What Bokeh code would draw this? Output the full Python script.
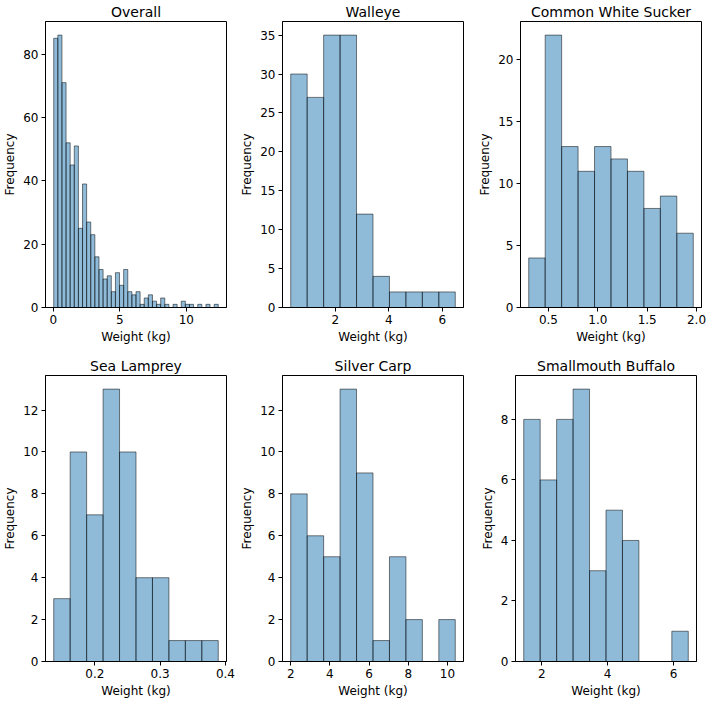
import numpy as np
from bokeh.plotting import figure
from bokeh.layouts import column, row
from bokeh.models import Range1d, FixedTicker
from bokeh.embed import file_html
from bokeh.resources import INLINE

# ---- data ----
overall_counts = [85, 86, 71, 52, 45, 51, 25, 39, 27, 23, 16, 12, 9, 10, 5, 11, 7, 12, 5, 4,
                  5, 1, 3, 4, 2, 1, 3, 1, 0, 1, 0, 2, 1, 1, 0, 1, 0, 1, 0, 1]
overall_range = (0.03, 12.40)
walleye_counts = [30, 27, 35, 35, 12, 4, 2, 2, 2, 2]
walleye_range = (0.34, 6.48)
sucker_counts = [4, 22, 13, 11, 13, 12, 11, 8, 9, 6]
sucker_range = (0.30, 1.967)
lamprey_counts = [3, 10, 7, 13, 10, 4, 4, 1, 1, 1]
lamprey_range = (0.137, 0.389)
carp_counts = [8, 6, 5, 13, 9, 1, 5, 2, 0, 2]
carp_range = (2.0, 10.4)
buffalo_counts = [8, 6, 8, 9, 3, 5, 4, 0, 0, 1]
buffalo_range = (1.45, 6.45)

titles = ["Overall", "Walleye", "Common White Sucker", "Sea Lamprey", "Silver Carp", "Smallmouth Buffalo"]
x_ticks = [[0, 5, 10], [2, 4, 6], [0.5, 1.0, 1.5, 2.0], [0.2, 0.3, 0.4], [2, 4, 6, 8, 10], [2, 4, 6]]
y_ticks = [[0, 20, 40, 60, 80], [0, 5, 10, 15, 20, 25, 30, 35], [0, 5, 10, 15, 20],
           [0, 2, 4, 6, 8, 10, 12], [0, 2, 4, 6, 8, 10, 12], [0, 2, 4, 6, 8]]
x_label_over = [None, None, {0.5: "0.5", 1.0: "1.0", 1.5: "1.5", 2.0: "2.0"},
                {0.2: "0.2", 0.3: "0.3", 0.4: "0.4"}, None, None]

series = [(overall_counts, overall_range), (walleye_counts, walleye_range),
          (sucker_counts, sucker_range), (lamprey_counts, lamprey_range),
          (carp_counts, carp_range), (buffalo_counts, buffalo_range)]

FONT = "DejaVu Sans"
FW, FH = 181, 286
lefts = [36, 40, 40]
rights = [11, 12, 11]
tops = [14, 24]
bottoms = [44, 42]

figs = []
for i, ((counts, (lo, hi)), title) in enumerate(zip(series, titles)):
    r, c = divmod(i, 3)
    n = len(counts)
    edges = np.linspace(lo, hi, n + 1)
    pad = 0.05 * (hi - lo)
    ymax = max(counts) * 1.05
    p = figure(frame_width=FW, frame_height=FH,
               min_border_left=lefts[c], min_border_right=rights[c],
               min_border_top=tops[r], min_border_bottom=bottoms[r],
               x_range=Range1d(lo - pad, hi + pad), y_range=Range1d(0, ymax),
               output_backend="svg", toolbar_location=None, title=title)
    p.quad(left=edges[:-1], right=edges[1:], bottom=0, top=counts,
           fill_color="#1f77b4", fill_alpha=0.5, line_color="black", line_alpha=0.5, line_width=1)
    p.title.text_font = FONT
    p.title.text_font_size = "14px"
    p.title.text_font_style = "normal"
    p.title.align = "center"
    p.title.text_color = "black"
    p.title.standoff = 3
    p.xgrid.visible = False
    p.ygrid.visible = False
    p.outline_line_color = "black"
    p.outline_line_alpha = 1
    p.outline_line_width = 1
    p.xaxis.axis_label = "Weight (kg)"
    p.yaxis.axis_label = "Frequency"
    p.xaxis.ticker = FixedTicker(ticks=x_ticks[i])
    p.yaxis.ticker = FixedTicker(ticks=y_ticks[i])
    if x_label_over[i]:
        p.xaxis.major_label_overrides = x_label_over[i]
    for ax in (p.xaxis, p.yaxis):
        ax.axis_label_text_font = FONT
        ax.axis_label_text_font_size = "12px"
        ax.axis_label_text_font_style = "normal"
        ax.axis_label_text_color = "black"
        ax.axis_label_standoff = 3
        ax.major_label_text_font = FONT
        ax.major_label_text_font_size = "12px"
        ax.major_label_text_color = "black"
        ax.major_label_standoff = 3
        ax.major_tick_out = 4
        ax.major_tick_in = 0
        ax.minor_tick_out = 0
        ax.minor_tick_in = 0
        ax.axis_line_color = "black"
        ax.major_tick_line_color = "black"
    figs.append(p)

layout = column(row(*figs[:3]), row(*figs[3:]))
open("out.html", "w").write(file_html(layout, INLINE))
